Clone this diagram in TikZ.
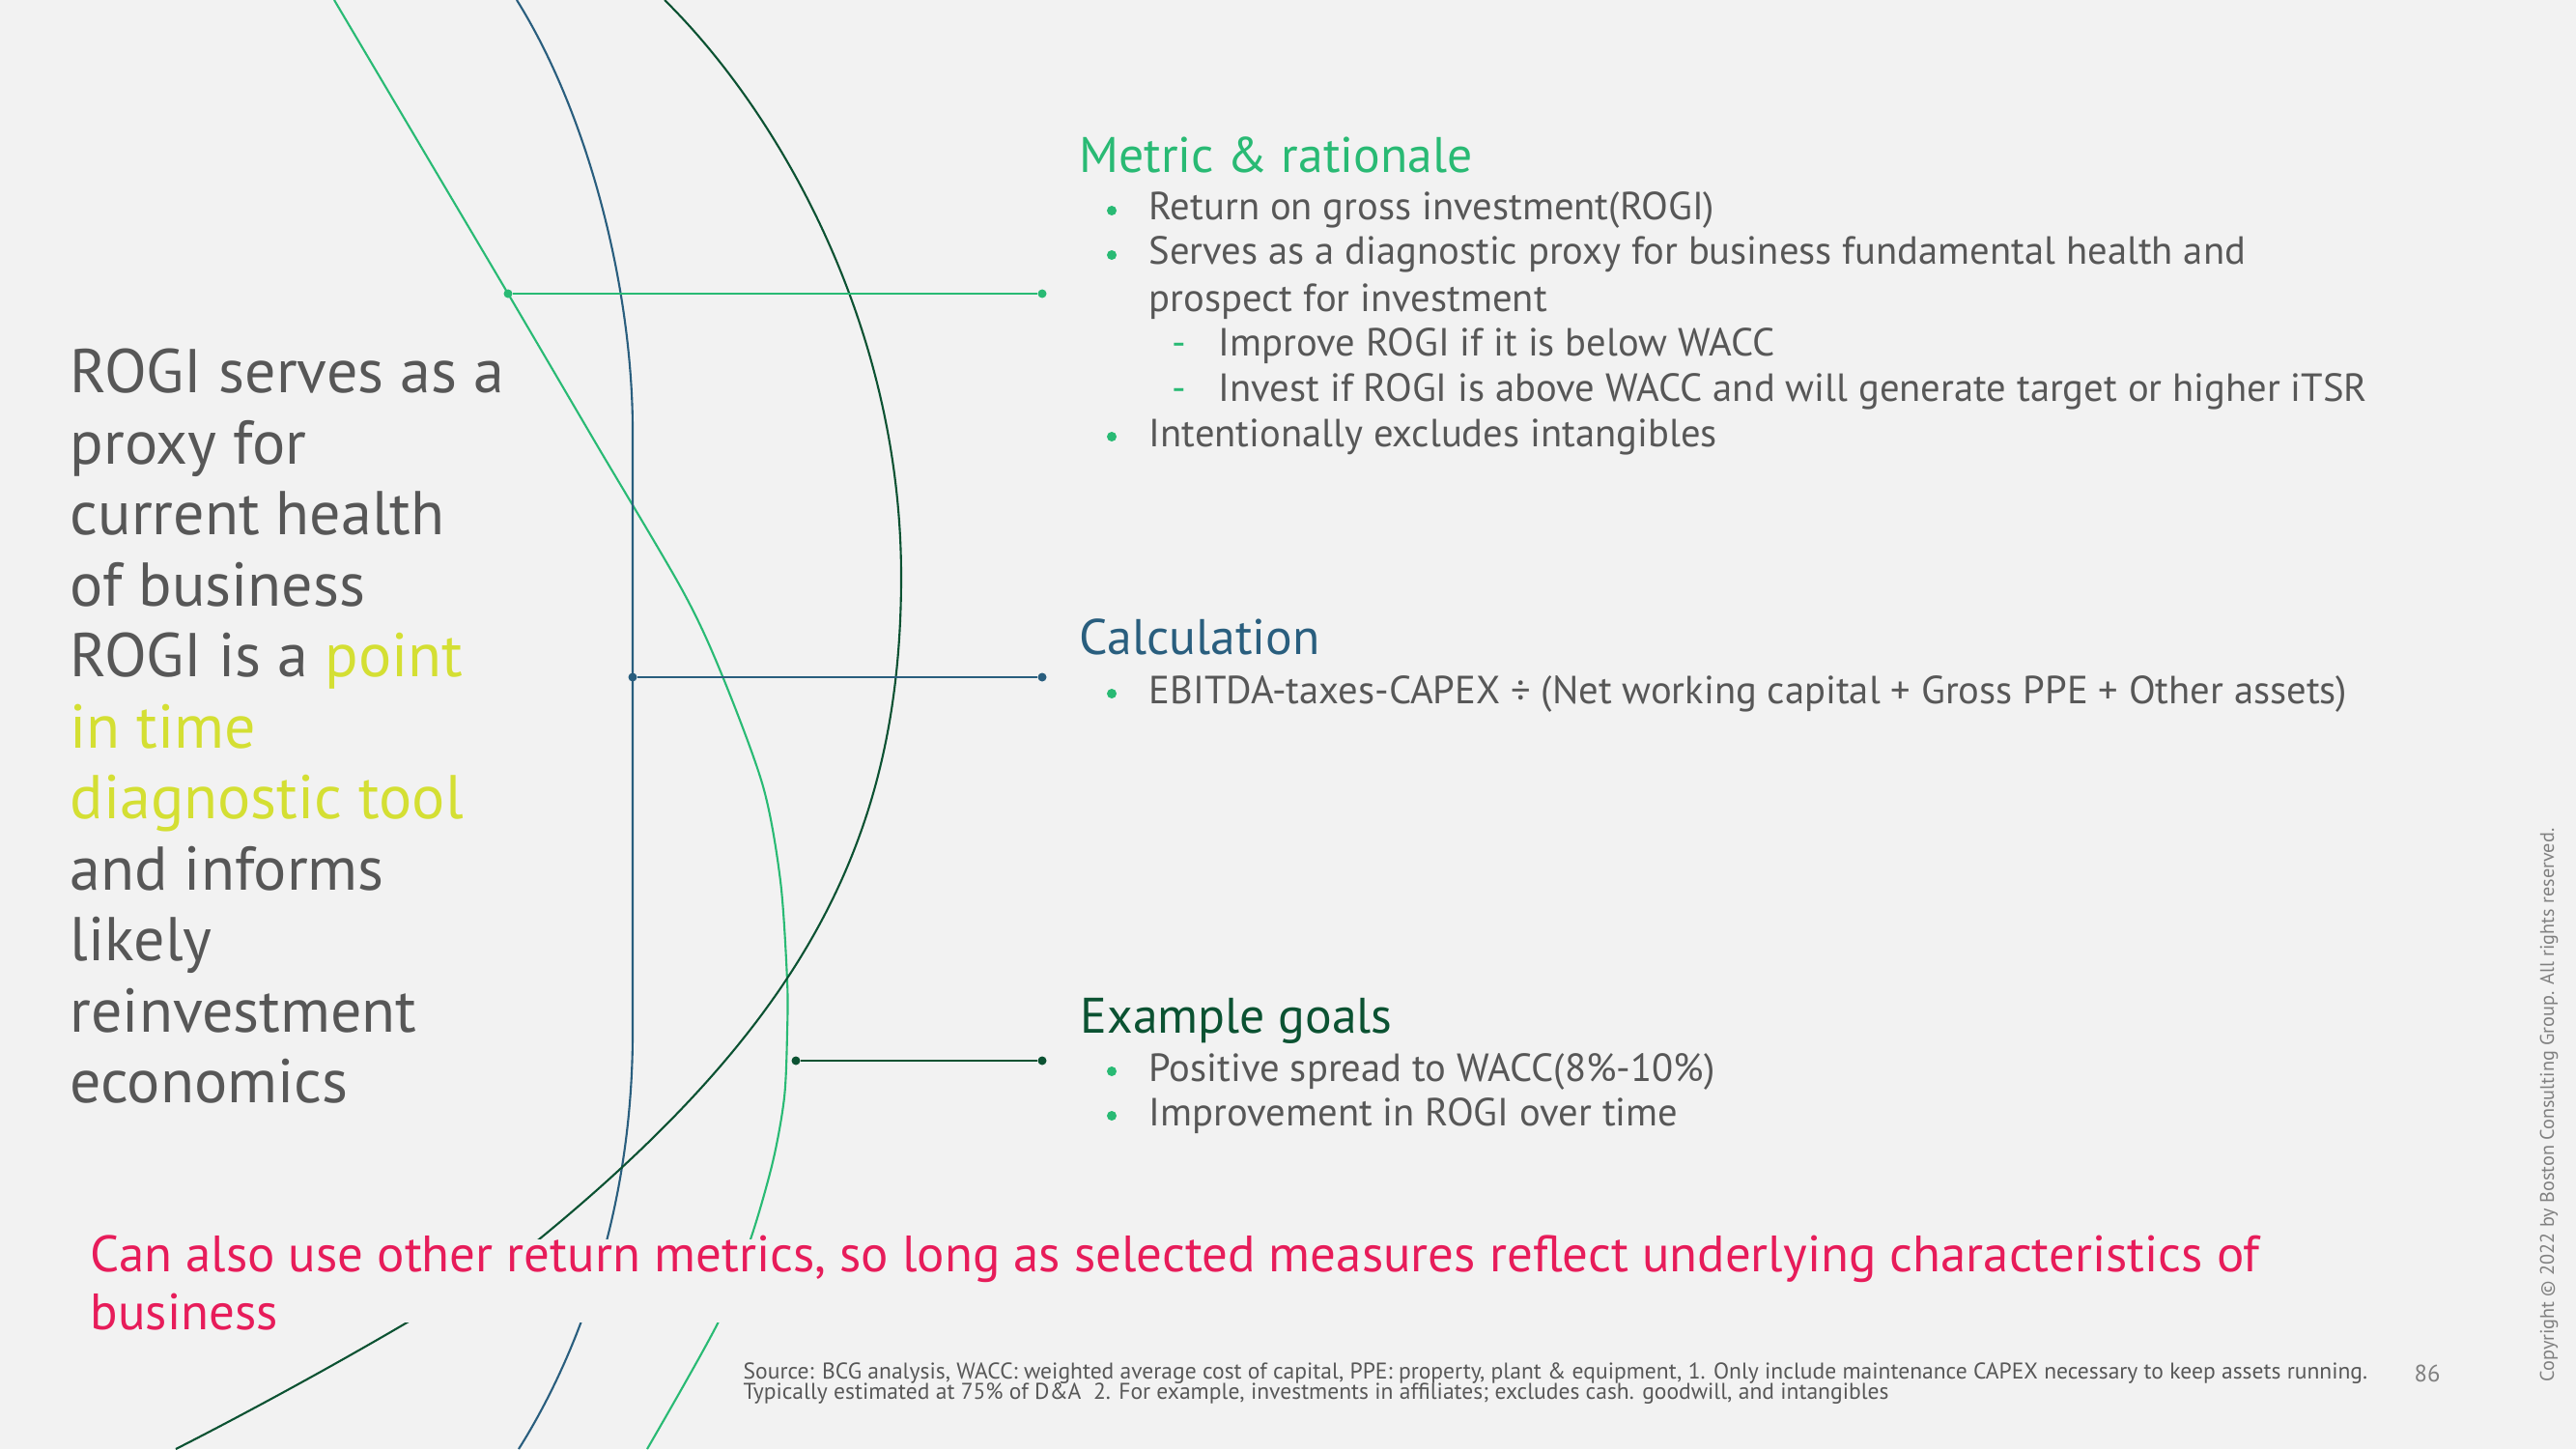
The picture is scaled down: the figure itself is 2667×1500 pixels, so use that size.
\documentclass[tikz,border=0pt]{standalone}
\usepackage{fontspec}
\setmainfont{PT Sans}
\definecolor{bgcol}{HTML}{F2F2F2}
\definecolor{lgreen}{HTML}{29BA74}
\definecolor{bcgblue}{HTML}{295E7E}
\definecolor{dgreen}{HTML}{0B5232}
\definecolor{lime}{HTML}{D4DF33}
\definecolor{rose}{HTML}{E71C5A}
\definecolor{txtgray}{HTML}{575757}
\definecolor{lightgray}{HTML}{808080}

\begin{document}
\begin{tikzpicture}[x=0.01cm,y=-0.01cm,
  item/.style={anchor=base west,inner sep=0pt,text=txtgray,font=\fontsize{11.55}{13}\selectfont},
  head/.style={anchor=base west,inner sep=0pt,font=\fontsize{14.7}{16}\selectfont},
  bigtxt/.style={anchor=base west,inner sep=0pt,text=txtgray,font=\fontsize{18.2}{20}\selectfont},
  redtxt/.style={anchor=base west,inner sep=0pt,text=rose,font=\fontsize{15.05}{16}\selectfont},
  foot/.style={anchor=base west,inner sep=0pt,text=txtgray,font=\fontsize{6.7}{7}\selectfont},
  bul/.style={circle,fill=lgreen,inner sep=0pt,minimum size=0.1cm},
  endpt/.style={circle,inner sep=0pt,minimum size=0.09cm},
  curve/.style={line width=0.6pt},
  link/.style={line width=0.8pt}]

% Background and page size
\fill[bgcol] (0,0) rectangle (2667,1500);
\useasboundingbox (0,0) rectangle (2667,1500);

% Three sweeping curves
\draw[curve,lgreen] plot[smooth] coordinates {(346,0) (436,152) (526,304) (617,459) (707,612) (748,700)
  (790,814) (808,912) (815,1015) (815,1069) (812,1136) (800,1203) (777,1283) (744,1368) (670,1500)};
\draw[curve,bcgblue] (535,0) .. controls (610,120) and (655,300) .. (655,446) -- (655,1069)
  .. controls (655,1250) and (600,1400) .. (537,1500);
\draw[curve,dgreen] (688,0) .. controls (800,110) and (933,330) .. (933,597)
  .. controls (933,870) and (830,1060) .. (558,1283)
  .. controls (470,1345) and (300,1440) .. (182,1500);

% Mask behind the note
\fill[bgcol] (80,1283) rectangle (2360,1369);

% Connectors
\node[endpt,fill=lgreen] (m1) at (526,304) {};
\node[endpt,fill=lgreen] (m2) at (1079,304) {};
\draw[link,lgreen] (m1) -- (m2);
\node[endpt,fill=bcgblue] (c1) at (655,701) {};
\node[endpt,fill=bcgblue] (c2) at (1079,701) {};
\draw[link,bcgblue] (c1) -- (c2);
\node[endpt,fill=dgreen] (g1) at (824,1098) {};
\node[endpt,fill=dgreen] (g2) at (1079,1098) {};
\draw[link,dgreen] (g1) -- (g2);

% Left statement
\foreach \txt [count=\i] in {ROGI serves as a, proxy for, current health, of business,
  ROGI is a \textcolor{lime}{point}, \textcolor{lime}{in time}, \textcolor{lime}{diagnostic tool},
  and informs, likely, reinvestment, economics}
  \node[bigtxt] (lt\i) at (72,{406.6+73.5*(\i-1)}) {\txt};

% Metric & rationale
\node[head,text=lgreen] (mhead) at (1117,179) {Metric \& rationale};
\node[bul] (mb1) at (1151,218) {};
\node[item] (mt1) at (1189,228) {Return on gross investment(ROGI)};
\node[bul] (mb2) at (1151,264) {};
\node[item] (mt2) at (1189,274) {Serves as a diagnostic proxy for business fundamental health and};
\node[item] (mt3) at (1189,322) {prospect for investment};
\node[item,text=lgreen] (md1) at (1213,368) {-};
\node[item] (mt4) at (1261,368) {Improve ROGI if it is below WACC};
\node[item,text=lgreen] (md2) at (1213,415) {-};
\node[item] (mt5) at (1261,415) {Invest if ROGI is above WACC and will generate target or higher iTSR};
\node[bul] (mb3) at (1151,452) {};
\node[item] (mt6) at (1189,462) {Intentionally excludes intangibles};

% Calculation
\node[head,text=bcgblue] (chead) at (1117,677) {Calculation};
\node[bul] (cb1) at (1151,718) {};
\node[item] (ct1) at (1189,728) {EBITDA-taxes-CAPEX ÷ (Net working capital + Gross PPE + Other assets)};

% Example goals
\node[head,text=dgreen] (ghead) at (1118,1069) {Example goals};
\node[bul] (gb1) at (1151,1109) {};
\node[item] (gt1) at (1189,1119) {Positive spread to WACC(8\%-10\%)};
\node[bul] (gb2) at (1151,1155) {};
\node[item] (gt2) at (1189,1165) {Improvement in ROGI over time};

% Note
\node[redtxt] (note1) at (93,1316) {Can also use other return metrics, so long as selected measures reflect underlying characteristics of};
\node[redtxt] (note2) at (93,1376) {business};

% Footnote, page number, copyright
\node[foot] (src1) at (769,1427) {Source: BCG analysis, WACC: weighted average cost of capital, PPE: property, plant \& equipment, 1. Only include maintenance CAPEX necessary to keep assets running.};
\node[foot] (src2) at (769,1448) {Typically estimated at 75\% of D\&A\ \ 2. For example, investments in affiliates; excludes cash. goodwill, and intangibles};
\node[foot,text=lightgray,font=\fontsize{7}{8}\selectfont] (pnum) at (2499,1430) {86};
\node[rotate=90,inner sep=0pt,text=lightgray,font=\fontsize{5.75}{6}\selectfont] (copy) at (2639,1144) {Copyright © 2022 by Boston Consulting Group. All rights reserved.};

\end{tikzpicture}
\end{document}
